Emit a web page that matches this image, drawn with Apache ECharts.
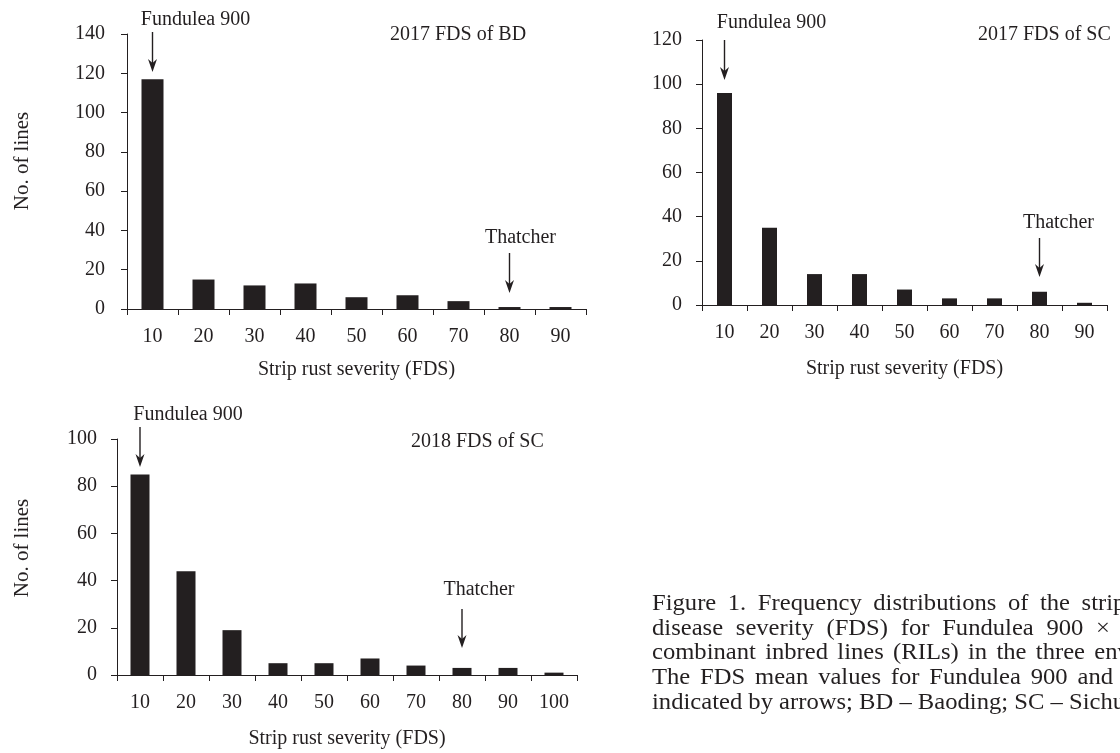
<!DOCTYPE html>
<html>
<head>
<meta charset="utf-8">
<script src="https://cdn.jsdelivr.net/npm/echarts@6/dist/echarts.min.js"></script>
<style>
  html, body { margin: 0; padding: 0; background: #ffffff; }
  #chart { width: 1120px; height: 753px; }
</style>
</head>
<body>
<div id="chart"></div>
<script>
// Severity classes (FDS, %) on the x axes
const severityClasses = ['10', '20', '30', '40', '50', '60', '70', '80', '90'];
const severityClasses2018 = ['10', '20', '30', '40', '50', '60', '70', '80', '90', '100'];

// Number of RILs falling in each severity class
const lines2017BD = [117, 15, 12, 13, 6, 7, 4, 1, 1];
const lines2017SC = [96, 35, 14, 14, 7, 3, 3, 6, 1];
const lines2018SC = [85, 44, 19, 5, 5, 7, 4, 3, 3, 1];

// Panel titles and y-axis ranges
const panelTitles = ['2017 FDS of BD', '2017 FDS of SC', '2018 FDS of SC'];
const yMax = [140, 120, 100];
const yStep = 20;

// Severity class of each parent (arrow positions)
const parentNames = ['Fundulea 900', 'Thatcher'];
const parentClass = [['10', '80'], ['10', '80'], ['10', '80']];

const captionLines = [
  'Figure 1. Frequency distributions of the stripe rust final',
  'disease severity (FDS) for Fundulea 900 \u00d7 Thatcher re-',
  'combinant inbred lines (RILs) in the three environments.',
  'The FDS mean values for Fundulea 900 and Thatcher are',
  'indicated by arrows; BD \u2013 Baoding; SC \u2013 Sichuan'
];

const INK = '#231f20';
const FONT = '"Liberation Serif", "DejaVu Serif", serif';
const FS = 20;
const CAPTION_FS = 23;
const CAPTION_SCALE_X = 1.07;

const chart = echarts.init(document.getElementById('chart'), null, { renderer: 'canvas' });

const grids = [
  { left: 127, top: 34, width: 459, height: 275 },
  { left: 702, top: 40, width: 405, height: 265 },
  { left: 117, top: 439, width: 460, height: 236 }
];
const cats = [severityClasses, severityClasses, severityClasses2018];
const data = [lines2017BD, lines2017SC, lines2018SC];
const barW = [22, 15, 19];
const yLabelMargin = [22, 20, 20];

const textBase = { color: INK, fontFamily: FONT, fontSize: FS };

const option = {
  backgroundColor: '#ffffff',
  animation: false,
  grid: grids.map(g => Object.assign({ containLabel: false }, g)),
  xAxis: cats.map((c, i) => ({
    type: 'category',
    gridIndex: i,
    data: c,
    boundaryGap: true,
    name: 'Strip rust severity (FDS)',
    nameLocation: 'middle',
    nameGap: i === 0 ? 51 : 54,
    nameTextStyle: textBase,
    axisLine: { show: true, lineStyle: { color: INK, width: 1 } },
    axisTick: { show: true, length: 6, inside: false, alignWithLabel: false, lineStyle: { color: INK, width: 1 } },
    axisLabel: Object.assign({ margin: 18, interval: 0 }, textBase),
    splitLine: { show: false }
  })),
  yAxis: yMax.map((m, i) => ({
    type: 'value',
    gridIndex: i,
    min: 0,
    max: m,
    interval: yStep,
    axisLine: { show: true, lineStyle: { color: INK, width: 1 } },
    axisTick: { show: true, length: 6, inside: false, lineStyle: { color: INK, width: 1 } },
    axisLabel: Object.assign({ margin: yLabelMargin[i] }, textBase),
    splitLine: { show: false }
  })),
  title: [
    { text: panelTitles[0], left: 390, top: 25, textStyle: Object.assign({ fontWeight: 'normal' }, textBase), padding: 0 },
    { text: panelTitles[1], left: 978, top: 25, textStyle: Object.assign({ fontWeight: 'normal' }, textBase), padding: 0 },
    { text: panelTitles[2], left: 411, top: 432, textStyle: Object.assign({ fontWeight: 'normal' }, textBase), padding: 0 }
  ],
  series: data.map((d, i) => ({
    type: 'bar',
    xAxisIndex: i,
    yAxisIndex: i,
    data: d,
    barWidth: barW[i],
    itemStyle: { color: INK },
    silent: true
  }))
};

chart.setOption(option);

// Annotation layout: label centre y, arrow start/end y for each parent in each panel
const annot = [
  [{ labelY: 20, y0: 32, y1: 72, labelDx: 43 }, { labelY: 238, y0: 253, y1: 293, labelDx: 11 }],
  [{ labelY: 23, y0: 40, y1: 80, labelDx: 47 }, { labelY: 223, y0: 238, y1: 277, labelDx: 19 }],
  [{ labelY: 415, y0: 427, y1: 467, labelDx: 48 }, { labelY: 590, y0: 609, y1: 648, labelDx: 17 }]
];

const graphics = [];
function arrow(x, y0, y1) {
  graphics.push({
    type: 'line',
    shape: { x1: x, y1: y0, x2: x, y2: y1 - 8 },
    style: { stroke: INK, lineWidth: 1.4 },
    silent: true
  });
  graphics.push({
    type: 'polygon',
    shape: { points: [[x - 4.5, y1 - 13], [x, y1 - 9], [x + 4.5, y1 - 13], [x, y1]] },
    style: { fill: INK },
    silent: true
  });
}

for (let p = 0; p < 3; p++) {
  for (let k = 0; k < 2; k++) {
    const catIdx = cats[p].indexOf(parentClass[p][k]);
    const x = chart.convertToPixel({ xAxisIndex: p }, catIdx);
    const a = annot[p][k];
    arrow(x, a.y0, a.y1);
    graphics.push({
      type: 'text',
      x: x + a.labelDx,
      y: a.labelY,
      style: {
        text: parentNames[k],
        fill: INK,
        font: FS + 'px ' + FONT,
        textAlign: 'center',
        textVerticalAlign: 'middle'
      },
      silent: true
    });
  }
}

// Vertical y-axis titles for the left-hand panels
[[22, 161], [22, 548]].forEach(([x, y]) => {
  graphics.push({
    type: 'text',
    x: x,
    y: y,
    rotation: Math.PI / 2,
    style: {
      text: 'No. of lines',
      fill: INK,
      font: '21px ' + FONT,
      textAlign: 'center',
      textVerticalAlign: 'middle'
    },
    silent: true
  });
});

// Justified caption: words spread so that a chosen word ends at a set x
const captionLeft = 652;
const captionAnchor = [[5, 1070], [6, 1110], [6, 1085], [7, 1113], [7, 1060]];
const measureCtx = document.createElement('canvas').getContext('2d');
measureCtx.font = CAPTION_FS + 'px ' + FONT;
const spaceW = measureCtx.measureText(' ').width * CAPTION_SCALE_X;

captionLines.forEach((line, i) => {
  const words = line.split(' ');
  const widths = words.map(w => measureCtx.measureText(w).width * CAPTION_SCALE_X);
  const [k, rightX] = captionAnchor[i];
  let natural = captionLeft;
  for (let j = 0; j <= k; j++) natural += widths[j] + (j > 0 ? spaceW : 0);
  const extra = k > 0 ? Math.max(0, (rightX - natural) / k) : 0;
  let x = captionLeft;
  words.forEach((w, j) => {
    graphics.push({
      type: 'text',
      x: x,
      y: 604 + i * 24.7,
      scaleX: CAPTION_SCALE_X,
      style: {
        text: w,
        fill: INK,
        font: CAPTION_FS + 'px ' + FONT,
        textAlign: 'left',
        textVerticalAlign: 'middle'
      },
      silent: true
    });
    x += widths[j] + spaceW + extra;
  });
});

chart.setOption({ graphic: graphics });
</script>
</body>
</html>
